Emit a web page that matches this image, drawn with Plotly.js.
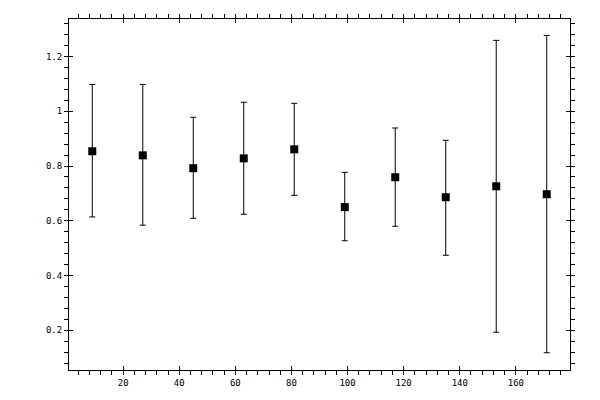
<!DOCTYPE html>
<html><head><meta charset="utf-8">
<script src="https://cdn.plot.ly/plotly-3.0.1.min.js"></script>
<style>html,body{margin:0;padding:0;background:#fff}#chart{width:600px;height:400px}</style>
</head><body><div id="chart"></div>
<script>
const xValues = [9, 27, 45, 63, 81, 99, 117, 135, 153, 171];
const yValues = [0.854, 0.839, 0.792, 0.828, 0.861, 0.650, 0.759, 0.686, 0.726, 0.697];
const yUpper  = [1.098, 1.098, 0.978, 1.033, 1.029, 0.777, 0.939, 0.894, 1.259, 1.277];
const yLower  = [0.614, 0.584, 0.609, 0.624, 0.693, 0.527, 0.580, 0.474, 0.193, 0.118];

const errPlus = yUpper.map((u, i) => u - yValues[i]);
const errMinus = yValues.map((v, i) => v - yLower[i]);

const font = {family: 'DejaVu Sans Mono, monospace', size: 9, color: '#000'};
const xr = [0.7, 179.3], yr = [0.055, 1.337];

const trace = {
  x: xValues, y: yValues, type: 'scatter', mode: 'markers',
  marker: {symbol: 'square', size: 8, color: '#000'},
  error_y: {type: 'data', symmetric: false, array: errPlus, arrayminus: errMinus,
            color: '#000', thickness: 1, width: 3},
  showlegend: false, hoverinfo: 'none'
};

const baseAxis = {
  showgrid: false, zeroline: false, showline: true, linecolor: '#000', linewidth: 1,
  mirror: 'allticks', ticks: 'outside', ticklen: 4, tickwidth: 1, tickcolor: '#000',
  tickfont: font, fixedrange: true
};

const layout = {
  width: 600, height: 400,
  margin: {l: 69, r: 30, t: 19, b: 30},
  paper_bgcolor: '#fff', plot_bgcolor: '#fff',
  xaxis: Object.assign({}, baseAxis, {range: xr, dtick: 20, tick0: 0,
    minor: {dtick: 4, tick0: 0, ticks: 'outside', ticklen: 4, tickcolor: '#000', tickwidth: 1}}),
  yaxis: Object.assign({}, baseAxis, {range: yr, dtick: 0.2, tick0: 0,
    minor: {dtick: 0.04, tick0: 0, ticks: 'outside', ticklen: 4, tickcolor: '#000', tickwidth: 1}}),
  xaxis2: {overlaying: 'x', anchor: 'y', range: xr, dtick: 20, tick0: 0, ticks: 'inside', ticklen: 4,
    tickcolor: '#000', tickwidth: 1, mirror: 'allticks', showline: false, showgrid: false,
    zeroline: false, showticklabels: false, fixedrange: true},
  yaxis2: {overlaying: 'y', anchor: 'x', range: yr, dtick: 0.2, tick0: 0, ticks: 'inside', ticklen: 4,
    tickcolor: '#000', tickwidth: 1, mirror: 'allticks', showline: false, showgrid: false,
    zeroline: false, showticklabels: false, fixedrange: true}
};

const dummy = {x: [xValues[0]], y: [yValues[0]], xaxis: 'x2', yaxis: 'y2', type: 'scatter',
  mode: 'markers', marker: {opacity: 0}, showlegend: false, hoverinfo: 'none'};

Plotly.newPlot('chart', [trace, dummy], layout, {staticPlot: true});
</script></body></html>
